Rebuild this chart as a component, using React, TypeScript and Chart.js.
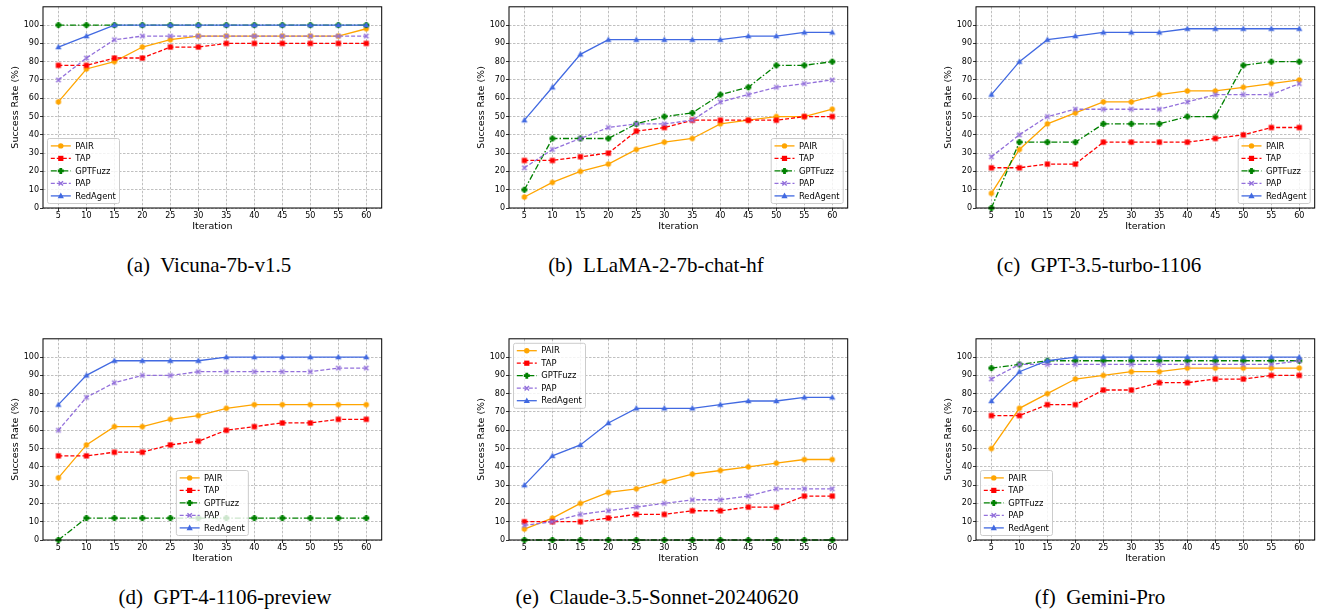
import React, { useEffect, useRef } from 'react';
import { Chart, registerables } from 'chart.js';

Chart.register(...registerables);

// ---------- data ----------
const iterations = [5, 10, 15, 20, 25, 30, 35, 40, 45, 50, 55, 60];
const yTickValues = [0, 10, 20, 30, 40, 50, 60, 70, 80, 90, 100];
const methodNames = ['PAIR', 'TAP', 'GPTFuzz', 'PAP', 'RedAgent'];

// (a) Vicuna-7b-v1.5
const vicunaPAIR = [58, 76, 80, 88, 92, 94, 94, 94, 94, 94, 94, 98];
const vicunaTAP = [78, 78, 82, 82, 88, 88, 90, 90, 90, 90, 90, 90];
const vicunaGPTFuzz = [100, 100, 100, 100, 100, 100, 100, 100, 100, 100, 100, 100];
const vicunaPAP = [70, 82, 92, 94, 94, 94, 94, 94, 94, 94, 94, 94];
const vicunaRedAgent = [88, 94, 100, 100, 100, 100, 100, 100, 100, 100, 100, 100];

// (b) LLaMA-2-7b-chat-hf
const llamaPAIR = [6, 14, 20, 24, 32, 36, 38, 46, 48, 50, 50, 54];
const llamaTAP = [26, 26, 28, 30, 42, 44, 48, 48, 48, 48, 50, 50];
const llamaGPTFuzz = [10, 38, 38, 38, 46, 50, 52, 62, 66, 78, 78, 80];
const llamaPAP = [22, 32, 38, 44, 46, 46, 48, 58, 62, 66, 68, 70];
const llamaRedAgent = [48, 66, 84, 92, 92, 92, 92, 92, 94, 94, 96, 96];

// (c) GPT-3.5-turbo-1106
const gpt35PAIR = [8, 32, 46, 52, 58, 58, 62, 64, 64, 66, 68, 70];
const gpt35TAP = [22, 22, 24, 24, 36, 36, 36, 36, 38, 40, 44, 44];
const gpt35GPTFuzz = [0, 36, 36, 36, 46, 46, 46, 50, 50, 78, 80, 80];
const gpt35PAP = [28, 40, 50, 54, 54, 54, 54, 58, 62, 62, 62, 68];
const gpt35RedAgent = [62, 80, 92, 94, 96, 96, 96, 98, 98, 98, 98, 98];

// (d) GPT-4-1106-preview
const gpt4PAIR = [34, 52, 62, 62, 66, 68, 72, 74, 74, 74, 74, 74];
const gpt4TAP = [46, 46, 48, 48, 52, 54, 60, 62, 64, 64, 66, 66];
const gpt4GPTFuzz = [0, 12, 12, 12, 12, 12, 12, 12, 12, 12, 12, 12];
const gpt4PAP = [60, 78, 86, 90, 90, 92, 92, 92, 92, 92, 94, 94];
const gpt4RedAgent = [74, 90, 98, 98, 98, 98, 100, 100, 100, 100, 100, 100];

// (e) Claude-3.5-Sonnet-20240620
const claudePAIR = [6, 12, 20, 26, 28, 32, 36, 38, 40, 42, 44, 44];
const claudeTAP = [10, 10, 10, 12, 14, 14, 16, 16, 18, 18, 24, 24];
const claudeGPTFuzz = [0, 0, 0, 0, 0, 0, 0, 0, 0, 0, 0, 0];
const claudePAP = [8, 10, 14, 16, 18, 20, 22, 22, 24, 28, 28, 28];
const claudeRedAgent = [30, 46, 52, 64, 72, 72, 72, 74, 76, 76, 78, 78];

// (f) Gemini-Pro
const geminiPAIR = [50, 72, 80, 88, 90, 92, 92, 94, 94, 94, 94, 94];
const geminiTAP = [68, 68, 74, 74, 82, 82, 86, 86, 88, 88, 90, 90];
const geminiGPTFuzz = [94, 96, 98, 98, 98, 98, 98, 98, 98, 98, 98, 98];
const geminiPAP = [88, 96, 96, 96, 96, 96, 96, 96, 96, 96, 96, 98];
const geminiRedAgent = [76, 92, 98, 100, 100, 100, 100, 100, 100, 100, 100, 100];

// ---------- layout / style ----------
const FONT = '"DejaVu Sans", sans-serif';
const GRID = 'rgba(150,150,150,0.75)';

const methodStyles = [
  { color: '#FFA500', dash: [] as number[], marker: 'o' },
  { color: '#FF0000', dash: [4, 2], marker: 's' },
  { color: '#008000', dash: [6, 2, 1.5, 2], marker: 'P' },
  { color: '#9370DB', dash: [4, 2], marker: 'x' },
  { color: '#4169E1', dash: [] as number[], marker: '^' },
];

type PanelDef = {
  caption: string;
  series: number[][];
  legend: string;
  rect: number[]; // plot-area left, top, right, bottom
  cap: number[]; // caption center x, y
};

const panels: PanelDef[] = [
  { caption: '(a)  Vicuna-7b-v1.5', series: [vicunaPAIR, vicunaTAP, vicunaGPTFuzz, vicunaPAP, vicunaRedAgent], legend: 'll', rect: [43, 5, 383, 208], cap: [209, 265] },
  { caption: '(b)  LLaMA-2-7b-chat-hf', series: [llamaPAIR, llamaTAP, llamaGPTFuzz, llamaPAP, llamaRedAgent], legend: 'lr', rect: [509, 5, 849, 208], cap: [656, 265] },
  { caption: '(c)  GPT-3.5-turbo-1106', series: [gpt35PAIR, gpt35TAP, gpt35GPTFuzz, gpt35PAP, gpt35RedAgent], legend: 'lr', rect: [976, 5, 1316, 208], cap: [1099, 265] },
  { caption: '(d)  GPT-4-1106-preview', series: [gpt4PAIR, gpt4TAP, gpt4GPTFuzz, gpt4PAP, gpt4RedAgent], legend: 'lc', rect: [43, 337, 383, 540], cap: [225, 597] },
  { caption: '(e)  Claude-3.5-Sonnet-20240620', series: [claudePAIR, claudeTAP, claudeGPTFuzz, claudePAP, claudeRedAgent], legend: 'ul', rect: [509, 337, 849, 540], cap: [657, 597] },
  { caption: '(f)  Gemini-Pro', series: [geminiPAIR, geminiTAP, geminiGPTFuzz, geminiPAP, geminiRedAgent], legend: 'll', rect: [976, 337, 1316, 540], cap: [1100, 597] },
];

const Y_AXIS_W = 40;
const X_AXIS_H = 26;
const PAD_TOP = 4;
const PAD_RIGHT = 3;

function drawMarker(ctx: CanvasRenderingContext2D, kind: string, x: number, y: number, color: string) {
  ctx.save();
  ctx.setLineDash([]);
  ctx.fillStyle = color;
  ctx.strokeStyle = color;
  switch (kind) {
    case 'o':
      ctx.beginPath();
      ctx.arc(x, y, 2.7, 0, Math.PI * 2);
      ctx.fill();
      break;
    case 's':
      ctx.fillRect(x - 2.6, y - 2.6, 5.2, 5.2);
      break;
    case 'P': {
      const a = 3.0, b = 1.4;
      ctx.beginPath();
      ctx.moveTo(x - b, y - a); ctx.lineTo(x + b, y - a); ctx.lineTo(x + b, y - b);
      ctx.lineTo(x + a, y - b); ctx.lineTo(x + a, y + b); ctx.lineTo(x + b, y + b);
      ctx.lineTo(x + b, y + a); ctx.lineTo(x - b, y + a); ctx.lineTo(x - b, y + b);
      ctx.lineTo(x - a, y + b); ctx.lineTo(x - a, y - b); ctx.lineTo(x - b, y - b);
      ctx.closePath();
      ctx.fill();
      break;
    }
    case 'x':
      ctx.lineWidth = 1.4;
      ctx.beginPath();
      ctx.moveTo(x - 2.2, y - 2.2); ctx.lineTo(x + 2.2, y + 2.2);
      ctx.moveTo(x - 2.2, y + 2.2); ctx.lineTo(x + 2.2, y - 2.2);
      ctx.stroke();
      break;
    case '^':
      ctx.beginPath();
      ctx.moveTo(x, y - 3.3); ctx.lineTo(x + 3.1, y + 2.3); ctx.lineTo(x - 3.1, y + 2.3);
      ctx.closePath();
      ctx.fill();
      break;
  }
  ctx.restore();
}

function makeMarker(kind: string, color: string): HTMLCanvasElement {
  const c = document.createElement('canvas');
  c.width = 12;
  c.height = 12;
  const ctx = c.getContext('2d')!;
  drawMarker(ctx, kind, 6, 6, color);
  return c;
}

function drawLegend(ctx: CanvasRenderingContext2D, a: any, corner: string) {
  const w = 72, h = 65, pad = 4.5;
  let x = a.left + pad;
  let y = a.bottom - pad - h;
  if (corner === 'lr') x = a.right - pad - w;
  if (corner === 'lc') x = (a.left + a.right) / 2 - w / 2;
  if (corner === 'ul') y = a.top + pad;
  ctx.save();
  ctx.beginPath();
  if ((ctx as any).roundRect) (ctx as any).roundRect(x, y, w, h, 2);
  else ctx.rect(x, y, w, h);
  ctx.fillStyle = 'rgba(255,255,255,0.8)';
  ctx.fill();
  ctx.strokeStyle = '#cccccc';
  ctx.lineWidth = 1;
  ctx.stroke();
  methodNames.forEach((name, i) => {
    const st = methodStyles[i];
    const ry = y + 7.4 + i * 12.5;
    ctx.strokeStyle = st.color;
    ctx.lineWidth = 1.3;
    ctx.setLineDash(st.dash);
    ctx.beginPath();
    ctx.moveTo(x + 3.3, ry);
    ctx.lineTo(x + 23.3, ry);
    ctx.stroke();
    ctx.setLineDash([]);
    drawMarker(ctx, st.marker, x + 13.3, ry, st.color);
    ctx.fillStyle = '#000';
    ctx.font = `8.4px ${FONT}`;
    ctx.textBaseline = 'middle';
    ctx.textAlign = 'left';
    ctx.fillText(name, x + 27.7, ry + 0.5);
  });
  ctx.restore();
}

const frameLegendPlugin = {
  id: 'frameLegend',
  afterDraw(chart: any, _args: any, opts: any) {
    const { ctx, chartArea: a } = chart;
    ctx.save();
    ctx.strokeStyle = '#000';
    ctx.lineWidth = 1;
    ctx.setLineDash([]);
    ctx.strokeRect(a.left, a.top, a.right - a.left, a.bottom - a.top);
    ctx.restore();
    drawLegend(ctx, a, opts.corner);
  },
};

function Panel({ def }: { def: PanelDef }) {
  const ref = useRef<HTMLCanvasElement | null>(null);
  const [pl, pt, pr, pb] = def.rect;
  const left = pl - Y_AXIS_W;
  const top = pt - PAD_TOP;
  const width = pr - pl + Y_AXIS_W + PAD_RIGHT;
  const height = pb - pt + PAD_TOP + X_AXIS_H;

  useEffect(() => {
    if (!ref.current) return;
    const datasets = def.series.map((vals, i) => {
      const st = methodStyles[i];
      return {
        label: methodNames[i],
        data: iterations.map((x, j) => ({ x, y: vals[j] })),
        borderColor: st.color,
        backgroundColor: st.color,
        borderWidth: 1.3,
        borderDash: st.dash,
        pointStyle: makeMarker(st.marker, st.color),
        pointRadius: 3,
        pointHoverRadius: 3,
        tension: 0,
        fill: false,
        clip: false as any,
        order: 4 - i,
      };
    });
    const tickFont = { family: FONT, size: 8 };
    const titleFont = { family: FONT, size: 9.5 };
    const chart = new Chart(ref.current, {
      type: 'line',
      data: { datasets: datasets as any },
      options: {
        animation: false,
        responsive: false,
        events: [],
        layout: { padding: { left: 0, top: PAD_TOP, right: PAD_RIGHT, bottom: 0 } },
        plugins: {
          legend: { display: false },
          tooltip: { enabled: false },
          frameLegend: { corner: def.legend },
        } as any,
        scales: {
          x: {
            type: 'linear',
            min: 2.25,
            max: 62.75,
            afterBuildTicks: (s: any) => { s.ticks = iterations.map((v) => ({ value: v })); },
            afterFit: (s: any) => { s.height = X_AXIS_H; },
            ticks: { font: tickFont, color: '#000', padding: 0, maxRotation: 0, autoSkip: false, callback: (v: any) => String(v) },
            grid: { color: GRID, lineWidth: 0.8, tickLength: 3, tickColor: '#000', tickWidth: 0.8 },
            border: { display: false, dash: [2.5, 1.5] },
            title: { display: true, text: 'Iteration', font: titleFont, color: '#000', padding: { top: 0, bottom: 1.6 } },
          },
          y: {
            type: 'linear',
            min: 0,
            max: 110,
            afterBuildTicks: (s: any) => { s.ticks = yTickValues.map((v) => ({ value: v })); },
            afterFit: (s: any) => { s.width = Y_AXIS_W; },
            ticks: { font: tickFont, color: '#000', padding: 1, autoSkip: false, callback: (v: any) => String(v) },
            grid: { color: GRID, lineWidth: 0.8, tickLength: 3, tickColor: '#000', tickWidth: 0.8 },
            border: { display: false, dash: [2.5, 1.5] },
            title: { display: true, text: 'Success Rate (%)', font: titleFont, color: '#000', padding: { top: 6.8, bottom: 0 } },
          },
        } as any,
      },
      plugins: [frameLegendPlugin as any],
    });
    return () => chart.destroy();
  }, [def]);

  return (
    <>
      <canvas
        ref={ref}
        width={width}
        height={height}
        style={{ position: 'absolute', left, top, width, height }}
      />
      <div
        style={{
          position: 'absolute',
          left: def.cap[0],
          top: def.cap[1],
          transform: 'translate(-50%, -50%)',
          whiteSpace: 'pre',
          fontFamily: '"Liberation Serif", "Times New Roman", serif',
          fontSize: 21,
          color: '#000',
          lineHeight: 1,
        }}
      >
        {def.caption}
      </div>
    </>
  );
}

export default function App() {
  return (
    <div
      style={{
        position: 'fixed',
        left: 0,
        top: 0,
        width: 1319,
        height: 612,
        overflow: 'hidden',
        background: '#fff',
      }}
    >
      {panels.map((p) => (
        <Panel key={p.caption} def={p} />
      ))}
    </div>
  );
}
